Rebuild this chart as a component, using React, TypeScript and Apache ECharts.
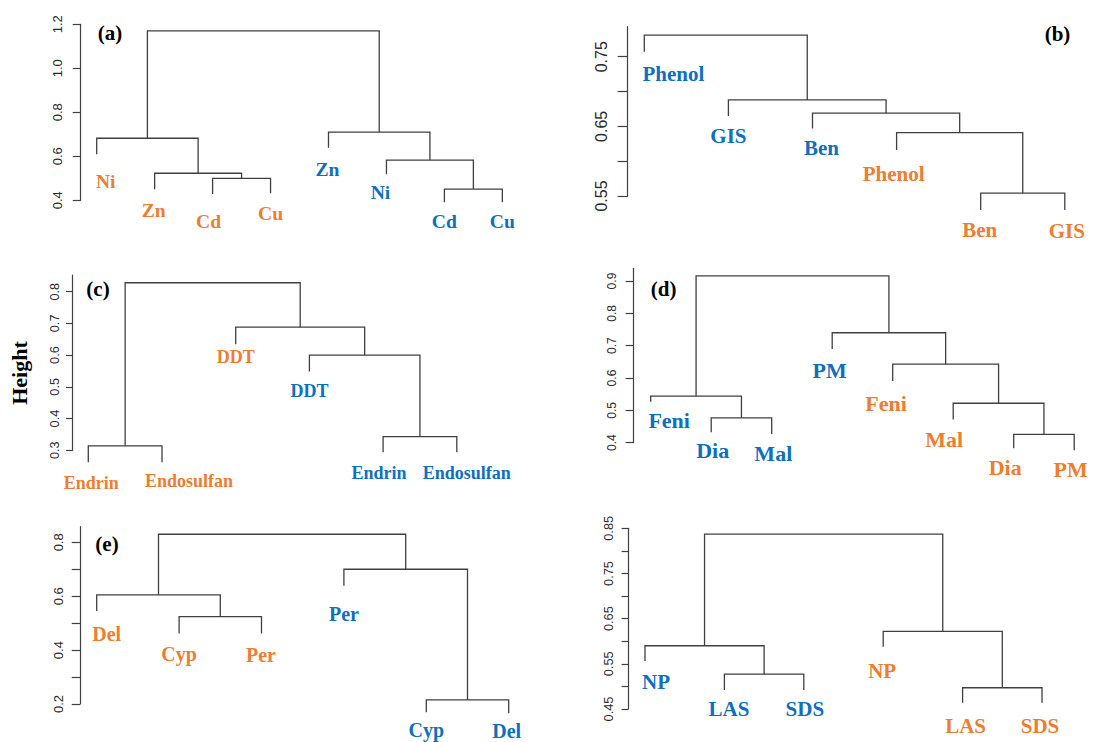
import React, { useEffect, useRef } from "react";
import * as echarts from "echarts";

const ORANGE = "#ED7D31";
const BLUE = "#0F6FBF";
const INK = "#404040";
const SERIF = "'Liberation Serif', 'Times New Roman', serif";
const SANS = "'Liberation Sans', Arial, sans-serif";
const PALETTE = [ORANGE, BLUE];

// Merge rows: [left, right, height]; negative ids are leaves (1-based, in
// display order), positive ids refer to an earlier merge row (1-based).
type Merge = [number, number, number];

// (a) heavy metals
const metalLabels = ["Ni", "Zn", "Cd", "Cu", "Zn", "Ni", "Cd", "Cu"];
const metalGroups = [0, 0, 0, 0, 1, 1, 1, 1];
const metalMerges: Merge[] = [
  [-3, -4, 0.5], [-2, 1, 0.523], [-1, 2, 0.682],
  [-7, -8, 0.451], [-6, 4, 0.583], [-5, 5, 0.71], [3, 6, 1.17],
];
const metalTips = [0.609, 0.45, 0.429, 0.432, 0.639, 0.518, 0.391, 0.391];
const metalTicks = [0.4, 0.6, 0.8, 1.0, 1.2];
const metalTickLabels = [0.4, 0.6, 0.8, 1.0, 1.2];

// (b) phenolic compounds
const phenolLabels = ["Phenol", "GIS", "Ben", "Phenol", "Ben", "GIS"];
const phenolGroups = [1, 1, 1, 0, 0, 0];
const phenolMerges: Merge[] = [
  [-5, -6, 0.554], [-4, 1, 0.641], [-3, 2, 0.669], [-2, 3, 0.688], [-1, 4, 0.781],
];
const phenolTips = [0.757, 0.665, 0.647, 0.616, 0.53, 0.53];
const phenolTicks = [0.55, 0.6, 0.65, 0.7, 0.75];
const phenolTickLabels = [0.55, 0.65, 0.75];

// (c) organochlorines
const ocLabels = ["Endrin", "Endosulfan", "DDT", "DDT", "Endrin", "Endosulfan"];
const ocGroups = [0, 0, 0, 1, 1, 1];
const ocMerges: Merge[] = [
  [-1, -2, 0.314], [-5, -6, 0.343], [-4, 2, 0.6], [-3, 3, 0.688], [1, 4, 0.828],
];
const ocTips = [0.262, 0.262, 0.634, 0.548, 0.294, 0.294];
const ocTicks = [0.3, 0.4, 0.5, 0.6, 0.7, 0.8];
const ocTickLabels = [0.3, 0.4, 0.5, 0.6, 0.7, 0.8];

// (d) organophosphates
const opLabels = ["Feni", "Dia", "Mal", "PM", "Feni", "Mal", "Dia", "PM"];
const opGroups = [1, 1, 1, 1, 0, 0, 0, 0];
const opMerges: Merge[] = [
  [-2, -3, 0.477], [-1, 1, 0.544], [-7, -8, 0.426], [-6, 3, 0.522],
  [-5, 4, 0.643], [-4, 5, 0.74], [2, 6, 0.916],
];
const opTips = [0.527, 0.432, 0.427, 0.69, 0.591, 0.472, 0.383, 0.377];
const opTicks = [0.4, 0.5, 0.6, 0.7, 0.8, 0.9];
const opTickLabels = [0.4, 0.5, 0.6, 0.7, 0.8, 0.9];

// (e) pyrethroids
const pyLabels = ["Del", "Cyp", "Per", "Per", "Cyp", "Del"];
const pyGroups = [0, 0, 0, 1, 1, 1];
const pyMerges: Merge[] = [
  [-2, -3, 0.524], [-1, 1, 0.605], [-5, -6, 0.215], [-4, 3, 0.7], [2, 4, 0.83],
];
const pyTips = [0.545, 0.462, 0.462, 0.639, 0.169, 0.166];
const pyTicks = [0.2, 0.3, 0.4, 0.5, 0.6, 0.7, 0.8];
const pyTickLabels = [0.2, 0.4, 0.6, 0.8];

// (f) surfactants
const sfLabels = ["NP", "LAS", "SDS", "NP", "LAS", "SDS"];
const sfGroups = [1, 1, 1, 0, 0, 0];
const sfMerges: Merge[] = [
  [-2, -3, 0.527], [-1, 1, 0.59], [-5, -6, 0.497], [-4, 3, 0.622], [2, 4, 0.837],
];
const sfTips = [0.556, 0.492, 0.492, 0.588, 0.464, 0.464];
const sfTicks = [0.45, 0.5, 0.55, 0.6, 0.65, 0.7, 0.75, 0.8, 0.85];
const sfTickLabels = [0.45, 0.55, 0.65, 0.75, 0.85];

interface Panel {
  labels: string[];
  groups: number[];
  merges: Merge[];
  tips: number[];
  ticks: number[];
  tickLabels: number[];
  decimals: number;
  // layout (pixels)
  axisX: number;
  leaf1X: number;
  spacing: number;
  topPx: number;
  bottomPx: number;
  yMin: number;
  yMax: number;
  tickFont: number;
  tickLen: number;
  labelMargin: number;
  leafFont: number;
  labelDx: number[];
  labelDy: number[];
}

const panels: Panel[] = [
  {
    labels: metalLabels, groups: metalGroups, merges: metalMerges, tips: metalTips,
    ticks: metalTicks, tickLabels: metalTickLabels, decimals: 1,
    axisX: 80.7, leaf1X: 96.7, spacing: 57.95, topPx: 24.3, bottomPx: 200.3, yMin: 0.4, yMax: 1.2,
    tickFont: 13, tickLen: 8, labelMargin: 17, leafFont: 19.6,
    labelDx: [9, -1, -4, 0, -1, -6, 0, 0], labelDy: [27, 21, 28, 20, 22, 18, 19, 19],
  },
  {
    labels: phenolLabels, groups: phenolGroups, merges: phenolMerges, tips: phenolTips,
    ticks: phenolTicks, tickLabels: phenolTickLabels, decimals: 2,
    axisX: 627.7, leaf1X: 644.3, spacing: 84.1, topPx: 26.7, bottomPx: 196, yMin: 0.55, yMax: 0.7931,
    tickFont: 16, tickLen: 10, labelMargin: 18.5, leafFont: 21,
    labelDx: [29, 0, 9, -3, -1, 2], labelDy: [22, 20, 20, 24, 20, 21],
  },
  {
    labels: ocLabels, groups: ocGroups, merges: ocMerges, tips: ocTips,
    ticks: ocTicks, tickLabels: ocTickLabels, decimals: 1,
    axisX: 72.7, leaf1X: 88.3, spacing: 73.7, topPx: 275, bottomPx: 450.3, yMin: 0.3, yMax: 0.8525,
    tickFont: 12.7, tickLen: 6.7, labelMargin: 11.5, leafFont: 18,
    labelDx: [3, 27, 0, 0, -4, 10], labelDy: [21, 18.5, 13, 19, 21, 21],
  },
  {
    labels: opLabels, groups: opGroups, merges: opMerges, tips: opTips,
    ticks: opTicks, tickLabels: opTickLabels, decimals: 1,
    axisX: 633.3, leaf1X: 650.7, spacing: 60.5, topPx: 268.3, bottomPx: 442.7, yMin: 0.4, yMax: 0.9394,
    tickFont: 12, tickLen: 7.7, labelMargin: 15.5, leafFont: 22,
    labelDx: [18.5, 1.5, 1.6, -2.6, -6.7, -9, -8.5, -3.5], labelDy: [19, 18, 20, 22, 23, 20, 19, 19],
  },
  {
    labels: pyLabels, groups: pyGroups, merges: pyMerges, tips: pyTips,
    ticks: pyTicks, tickLabels: pyTickLabels, decimals: 1,
    axisX: 80, leaf1X: 96.7, spacing: 82.4, topPx: 526.7, bottomPx: 704, yMin: 0.2, yMax: 0.858,
    tickFont: 13, tickLen: 8.3, labelMargin: 14.7, leafFont: 20,
    labelDx: [10, 0, -0.5, 0, 0, -2], labelDy: [23, 21, 22, 28, 18, 18],
  },
  {
    labels: sfLabels, groups: sfGroups, merges: sfMerges, tips: sfTips,
    ticks: sfTicks, tickLabels: sfTickLabels, decimals: 2,
    axisX: 628.3, leaf1X: 645, spacing: 79.4, topPx: 528.3, bottomPx: 709, yMin: 0.45, yMax: 0.85,
    tickFont: 12.8, tickLen: 6.7, labelMargin: 13, leafFont: 21,
    labelDx: [11, 4.5, 1, -1, 3, -2], labelDy: [21, 19, 19, 24, 23, 23],
  },
];

// Panel tags drawn in the corner of each dendrogram
const tags = [
  { text: "(a)", x: 110, y: 33 },
  { text: "(b)", x: 1057.5, y: 34 },
  { text: "(c)", x: 98, y: 288.5 },
  { text: "(d)", x: 663.7, y: 288.5 },
  { text: "(e)", x: 107, y: 544 },
];

// Turn the merge table into elbow polylines in data coordinates.
function elbows(merges: Merge[], tips: number[]): number[][][] {
  const mx: number[] = [];
  const cx = (id: number) => (id < 0 ? -id : mx[id - 1]);
  const cy = (id: number) => (id < 0 ? tips[-id - 1] : merges[id - 1][2]);
  return merges.map(([a, b, h], i) => {
    const xa = cx(a);
    const xb = cx(b);
    mx[i] = (xa + xb) / 2;
    return [[xa, cy(a)], [xa, h], [xb, h], [xb, cy(b)]];
  });
}

function buildOption() {
  const grid: any[] = [];
  const xAxis: any[] = [];
  const yAxis: any[] = [];
  const series: any[] = [];

  panels.forEach((p, i) => {
    const n = p.labels.length;
    const xMin = 1 - (p.leaf1X - p.axisX) / p.spacing;
    const xMax = n + 0.6;
    grid.push({
      left: p.axisX,
      top: p.topPx,
      width: (xMax - xMin) * p.spacing,
      height: p.bottomPx - p.topPx,
      containLabel: false,
      outerBoundsMode: "none",
    });
    xAxis.push({ gridIndex: i, type: "value", min: xMin, max: xMax, show: false });
    yAxis.push({
      gridIndex: i,
      type: "value",
      min: p.yMin,
      max: p.yMax,
      axisLine: { show: true, lineStyle: { color: INK, width: 1.2 } },
      axisTick: {
        show: true,
        length: p.tickLen,
        customValues: p.ticks,
        lineStyle: { color: INK, width: 1.2 },
      },
      axisLabel: {
        show: true,
        customValues: p.tickLabels,
        rotate: 90,
        margin: p.labelMargin,
        fontFamily: SANS,
        fontSize: p.tickFont,
        color: "#2a2a2a",
        formatter: (v: number) => v.toFixed(p.decimals),
      },
      splitLine: { show: false },
    });
    series.push({
      type: "lines",
      coordinateSystem: "cartesian2d",
      xAxisIndex: i,
      yAxisIndex: i,
      polyline: true,
      clip: false,
      silent: true,
      lineStyle: { color: INK, width: 1.3, opacity: 1, curveness: 0 },
      data: elbows(p.merges, p.tips).map((coords) => ({ coords })),
    });
    series.push({
      type: "scatter",
      xAxisIndex: i,
      yAxisIndex: i,
      clip: false,
      silent: true,
      symbolSize: 1,
      itemStyle: { color: "transparent" },
      data: p.labels.map((name, k) => ({
        name,
        value: [k + 1, p.tips[k]],
        label: {
          show: true,
          position: "inside",
          offset: [p.labelDx[k], p.labelDy[k]],
          formatter: "{b}",
          color: PALETTE[p.groups[k]],
          opacity: 1,
          textBorderWidth: 0,
          textBorderColor: "transparent",
          textShadowBlur: 0,
          fontFamily: SERIF,
          fontWeight: "bold",
          fontSize: p.leafFont,
        },
      })),
    });
  });

  const graphic: any[] = tags.map((t) => ({
    type: "text",
    x: t.x,
    y: t.y,
    silent: true,
    style: {
      text: t.text,
      fill: "#000",
      font: `bold 21px ${SERIF}`,
      align: "center",
      verticalAlign: "middle",
    },
  }));
  graphic.push({
    type: "text",
    x: 19,
    y: 373,
    rotation: Math.PI / 2,
    silent: true,
    style: {
      text: "Height",
      fill: "#000",
      font: `bold 22px ${SERIF}`,
      align: "center",
      verticalAlign: "middle",
    },
  });

  return {
    animation: false,
    backgroundColor: "#ffffff",
    grid,
    xAxis,
    yAxis,
    series,
    graphic,
  };
}

export default function App() {
  const ref = useRef<HTMLDivElement>(null);

  useEffect(() => {
    if (!ref.current) return;
    const chart = echarts.init(ref.current, undefined, { renderer: "svg" });
    chart.setOption(buildOption() as any);
    return () => chart.dispose();
  }, []);

  return (
    <div
      ref={ref}
      style={{ position: "fixed", left: 0, top: 0, width: 1100, height: 742, background: "#fff" }}
    />
  );
}
